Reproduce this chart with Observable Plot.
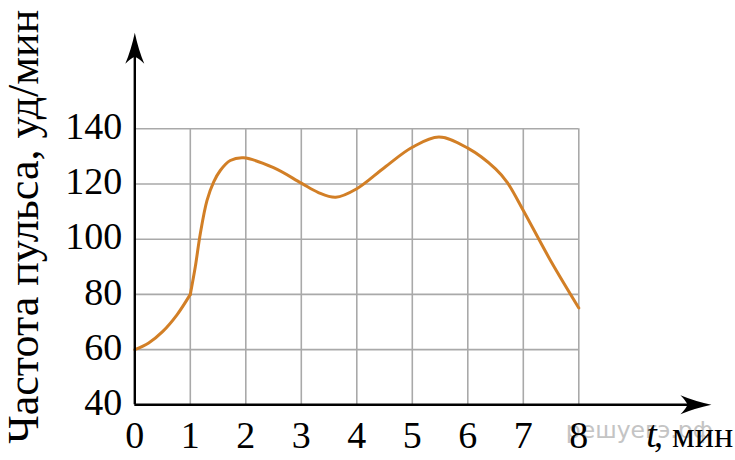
<!DOCTYPE html>
<html>
<head>
<meta charset="utf-8">
<script src="https://cdn.jsdelivr.net/npm/d3@7"></script>
<script src="https://cdn.jsdelivr.net/npm/@observablehq/plot@0.6"></script>
<style>
  html, body { margin: 0; padding: 0; background: #fff; }
</style>
</head>
<body>
<div id="chart"></div>
<script>
// Data
const tMin = [0, 0.25, 0.5, 0.76, 1, 1.09, 1.18, 1.3, 1.42, 1.54, 1.72, 1.96, 2.5, 3, 3.3, 3.62, 4, 4.5, 5, 5.48, 6, 6.5, 6.71, 7, 7.49, 8];
const pulse = [60, 62.4, 66.5, 72.6, 80, 90, 102, 114, 120.7, 124.9, 128.5, 129.5, 125.9, 120.3, 117, 115.2, 118.3, 126, 133.3, 137, 133, 125.5, 120.6, 110.4, 92.3, 75.1];
const kinkAt = 1; // curve has a corner at t = 1 min

const xTicks = [0, 1, 2, 3, 4, 5, 6, 7, 8];
const yTicks = [40, 60, 80, 100, 120, 140];
const xGrid = [1, 2, 3, 4, 5, 6, 7, 8];
const yGrid = [60, 80, 100, 120, 140];
const xAxisEnd = [10.39];   // arrow tip of the t axis (data units)
const yAxisEnd = [174.8];   // arrow tip of the pulse axis (data units)

const yLabel = "Частота пульса, уд/мин";
const xLabelVar = "t";
const xLabelUnit = ", мин";
const watermark = "решуегэ.рф";

// build curve rows in two pieces joined at the kink
const rows = [];
tMin.forEach((t, i) => {
  if (t <= kinkAt) rows.push({t, v: pulse[i], seg: "a"});
  if (t >= kinkAt) rows.push({t, v: pulse[i], seg: "b"});
});

const arrowUp = {
  draw(ctx) {
    ctx.moveTo(0, 0);
    ctx.quadraticCurveTo(3.6, 17, 9.5, 31);
    ctx.quadraticCurveTo(4, 25.5, 0, 24);
    ctx.quadraticCurveTo(-4, 25.5, -9.5, 31);
    ctx.quadraticCurveTo(-3.6, 17, 0, 0);
    ctx.closePath();
  }
};
const arrowRight = {
  draw(ctx) {
    ctx.moveTo(0, 0);
    ctx.quadraticCurveTo(-17, 3.6, -31, 9.5);
    ctx.quadraticCurveTo(-25.5, 4, -24, 0);
    ctx.quadraticCurveTo(-25.5, -4, -31, -9.5);
    ctx.quadraticCurveTo(-17, -3.6, 0, 0);
    ctx.closePath();
  }
};

const serif = "Liberation Serif";
const gridColor = "#a9a9a9";
const curveColor = "#d27f26";

const chart = Plot.plot({
  width: 735,
  height: 460,
  marginLeft: 134.3,
  marginRight: 156.7,
  marginTop: 128.3,
  marginBottom: 55.7,
  x: {domain: [0, 8]},
  y: {domain: [40, 140]},
  style: {color: "black", background: "white", overflow: "visible", fontFamily: serif},
  marks: [
    Plot.text([watermark], {
      frameAnchor: "bottom-left", dx: 431, dy: 33, text: d => d,
      textAnchor: "start", lineAnchor: "bottom",
      fontFamily: "DejaVu Sans", fontSize: 23.5, fill: "#c4c4c4"
    }),
    Plot.gridX(xGrid, {stroke: gridColor, strokeOpacity: 1, strokeWidth: 1.6}),
    Plot.gridY(yGrid, {x1: 0, x2: 8, stroke: gridColor, strokeOpacity: 1, strokeWidth: 1.6}),
    Plot.line(rows, {
      x: "t", y: "v", z: "seg", curve: "catmull-rom",
      stroke: curveColor, strokeWidth: 3, strokeLinecap: "round", strokeLinejoin: "round"
    }),
    Plot.ruleX([0], {y1: 40, y2: d => yAxisEnd[0] - 6, stroke: "black", strokeWidth: 2.4}),
    Plot.ruleY([40], {x1: 0, x2: d => xAxisEnd[0] - 0.3, stroke: "black", strokeWidth: 2.4}),
    Plot.dot(yAxisEnd, {x: () => 0, y: d => d, symbol: arrowUp, fill: "black", stroke: null}),
    Plot.dot(xAxisEnd, {x: d => d, y: () => 40, symbol: arrowRight, fill: "black", stroke: null}),
    Plot.axisY({
      ticks: yTicks, tickSize: 0, tickPadding: 12.6, fontSize: 38, fontFamily: serif,
      label: null, dy: -2, fill: "black"
    }),
    Plot.axisX({
      ticks: xTicks, tickSize: 0, tickPadding: 16, fontSize: 38, fontFamily: serif,
      label: null, fill: "black"
    }),
    Plot.text([yLabel], {
      frameAnchor: "left", dx: -97, dy: -40, rotate: -90, text: d => d,
      textAnchor: "middle", lineAnchor: "bottom", fontSize: 44, fontFamily: serif, fill: "black"
    }),
    Plot.text([xLabelVar], {
      frameAnchor: "bottom-left", dx: 511.5, dy: 42, text: d => d,
      textAnchor: "start", lineAnchor: "bottom", fontSize: 38, fontFamily: serif,
      fontStyle: "italic", fill: "black"
    }),
    Plot.text([xLabelUnit], {
      frameAnchor: "bottom-left", dx: 598.5, dy: 42, text: d => d,
      textAnchor: "end", lineAnchor: "bottom", fontSize: 36, fontFamily: serif, fill: "black"
    })
  ]
});

// make sure the serif face is used by every label (watermark keeps its sans face)
d3.select(chart).selectAll("text").each(function () {
  const g = this.closest("g[font-family]");
  const fam = g ? g.getAttribute("font-family") : serif;
  this.style.fontFamily = fam === "DejaVu Sans" ? "'DejaVu Sans'" : "'Liberation Serif'";
});

document.getElementById("chart").appendChild(chart);
</script>
</body>
</html>
